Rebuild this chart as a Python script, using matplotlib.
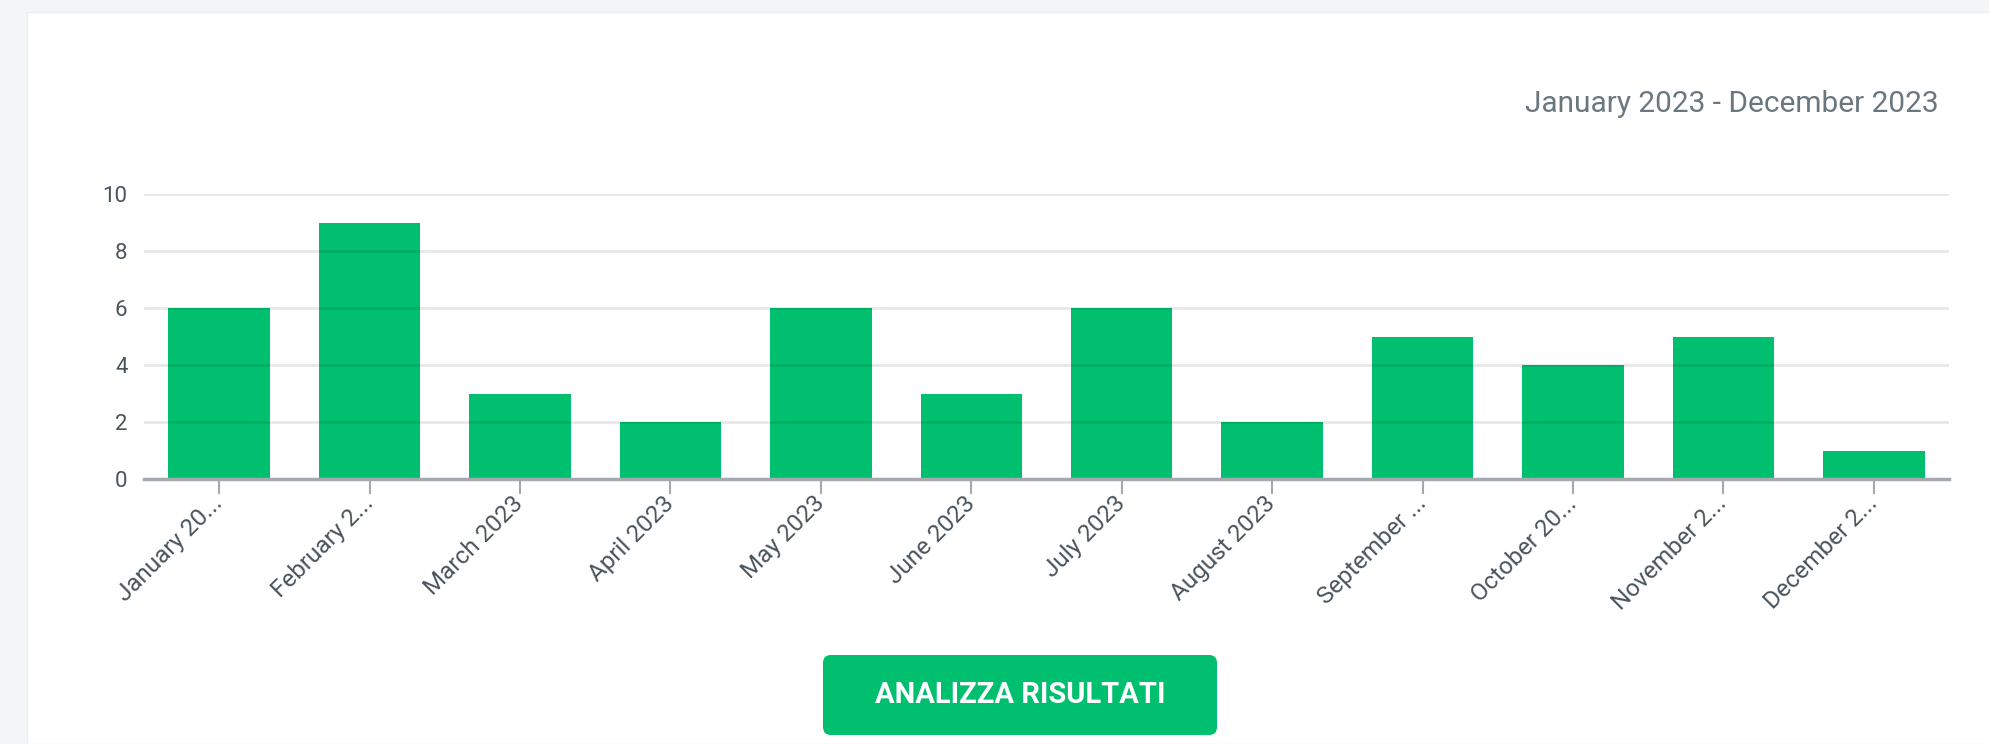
import matplotlib
matplotlib.use('Agg')
import matplotlib.pyplot as plt
from matplotlib.patches import FancyBboxPatch, Rectangle
import numpy as np

plt.rcParams['font.family'] = ['Roboto', 'DejaVu Sans']

# data
months = ['January 20...', 'February 2...', 'March 2023', 'April 2023', 'May 2023',
          'June 2023', 'July 2023', 'August 2023', 'September ...', 'October 20...',
          'November 2...', 'December 2...']
counts = [6, 9, 3, 2, 6, 3, 6, 2, 5, 4, 5, 1]
yticks = [0, 2, 4, 6, 8, 10]
date_range = 'January 2023 - December 2023'
button_text = 'ANALIZZA RISULTATI'

W, H = 1990, 744
green = '#00BF6F'

fig = plt.figure(figsize=(W / 100, H / 100), dpi=100)
fig.patch.set_facecolor('#f4f5f7')

# white card behind everything
fig.patches.append(Rectangle((27 / W, 0), 1, 1 - 12 / H, transform=fig.transFigure,
                             facecolor='white', edgecolor='#eceef0', linewidth=1, zorder=-5))

ax = fig.add_axes([144 / W, 1 - 479.3 / H, (1949 - 144) / W, (479.3 - 194.3) / H])
ax.set_zorder(2)
ax.set_facecolor('none')

x = np.arange(len(months))
ax.bar(x, counts, width=0.675, color=green, zorder=1)

ax.set_xlim(-0.5, len(months) - 0.5)
ax.set_ylim(0, 10)
ax.set_yticks(yticks)
ax.set_yticklabels([str(v) for v in yticks])
# grid sits on top of the bars, semi transparent
ax.set_axisbelow(False)
ax.yaxis.grid(True, color='black', alpha=0.09, linewidth=2)

for s in ['top', 'right', 'left']:
    ax.spines[s].set_visible(False)
ax.spines['bottom'].set_color('#a3a9ae')
ax.spines['bottom'].set_linewidth(2.5)
ax.spines['bottom'].set_zorder(4)

ax.tick_params(axis='y', length=0, pad=12, labelsize=16, labelcolor='#4a545c')
ax.tick_params(axis='x', length=11, width=1.5, color='#a3a9ae', pad=4,
               labelsize=17.5, labelcolor='#4a545c')
ax.set_xticks(x)
ax.set_xticklabels(months, rotation=45, ha='right', va='center', rotation_mode='anchor')

# date range caption
fig.text(1939 / W, 1 - 112 / H, date_range, ha='right', va='baseline',
         fontsize=21.5, color='#6b777f')

# button
bx0, bx1 = 823 / W, 1217 / W
by0, by1 = 1 - 735 / H, 1 - 655 / H
fig.patches.append(FancyBboxPatch((bx0, by0), bx1 - bx0, by1 - by0,
                                  boxstyle='round,pad=0,rounding_size=0.004',
                                  transform=fig.transFigure, facecolor=green,
                                  edgecolor='none', mutation_aspect=W / H))
fig.text((bx0 + bx1) / 2, (by0 + by1) / 2, button_text, ha='center', va='center',
         fontsize=21, fontweight='bold', color='white')

fig.savefig('out.png', dpi=100, facecolor=fig.get_facecolor())
